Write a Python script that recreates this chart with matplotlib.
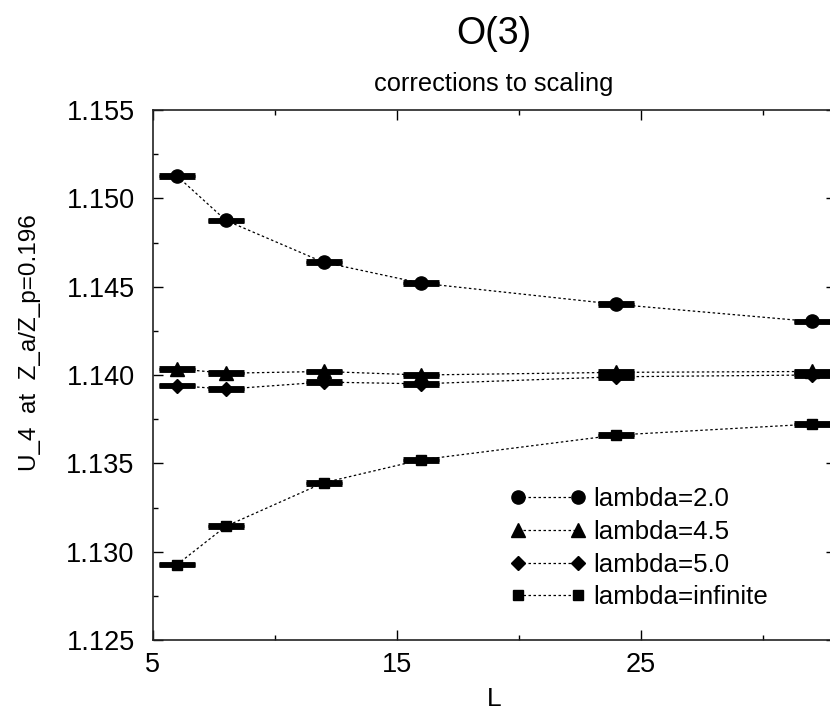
import matplotlib
matplotlib.use("Agg")
import matplotlib.pyplot as plt

plt.rcParams['font.family'] = ['Liberation Sans', 'DejaVu Sans']

L = [6, 8, 12, 16, 24, 32]
lam_2_0 = [1.15126, 1.14875, 1.14638, 1.14520, 1.14400, 1.14303]
lam_4_5 = [1.14035, 1.14010, 1.14020, 1.14000, 1.14015, 1.14020]
lam_5_0 = [1.13940, 1.13920, 1.13960, 1.13950, 1.13990, 1.14000]
lam_inf = [1.12927, 1.13144, 1.13390, 1.13520, 1.13660, 1.13722]
err_2_0 = [0.00005] * 6
err_4_5 = [0.00005] * 6
err_5_0 = [0.00005] * 6
err_inf = [0.00005] * 6
labels = ['lambda=2.0', 'lambda=4.5', 'lambda=5.0', 'lambda=infinite']
markers = ['o', '^', 'D', 's']
msizes = [9.5, 9.5, 7.5, 6.5]

W, H = 830, 710
fig = plt.figure(figsize=(W / 100, H / 100), dpi=100)
ax = fig.add_axes([152.7 / W, (H - 640) / H, (836 - 152.7) / W, 530 / H])

series = [lam_2_0, lam_4_5, lam_5_0, lam_inf]
errs = [err_2_0, err_4_5, err_5_0, err_inf]
handles = []
for y, e, m, ms, lab in zip(series, errs, markers, msizes, labels):
    ax.errorbar(L, y, yerr=e, fmt='none', ecolor='black', elinewidth=1.5,
                capsize=13, capthick=3.5, zorder=3)
    h, = ax.plot(L, y, color='black', linestyle=(0, (2, 2)), linewidth=0.9,
                 marker=m, markersize=ms, markerfacecolor='black',
                 markeredgecolor='black', label=lab, zorder=4)
    handles.append(h)

ax.set_xlim(5, 33)
ax.set_ylim(1.125, 1.155)
ax.set_xticks([5, 15, 25])
ax.set_xticks([10, 20, 30], minor=True)
ax.set_yticks([1.125, 1.130, 1.135, 1.140, 1.145, 1.150, 1.155])
ax.set_yticklabels(['1.125', '1.130', '1.135', '1.140', '1.145', '1.150', '1.155'])
ax.set_yticks([1.1275, 1.1325, 1.1375, 1.1425, 1.1475, 1.1525], minor=True)
ax.tick_params(which='both', direction='in', top=True, right=True, labelsize=19.5)
ax.tick_params(axis='y', which='major', length=7, width=1, pad=13)
ax.tick_params(axis='x', which='major', length=7, width=1, pad=9)
ax.tick_params(which='minor', length=3.5, width=1)
for s in ax.spines.values():
    s.set_linewidth(1.2)
    s.set_color('#222222')

ax.set_xlabel('L', fontsize=19, labelpad=6)
fig.text(30 / W, (H - 343) / H, 'U_4  at  Z_a/Z_p=0.196', fontsize=17.5,
         rotation=90, ha='center', va='center')

fig.text(494 / W, (H - 43.5) / H, 'O(3)', fontsize=27, ha='center', va='baseline')
fig.text(494 / W, (H - 90.7) / H, 'corrections to scaling', fontsize=18.3,
         ha='center', va='baseline')

leg = fig.legend(handles=handles, labels=labels, loc='upper left',
                 bbox_to_anchor=(510.5 / W, (H - 487) / H), frameon=False,
                 fontsize=18.6, numpoints=2, handlelength=2.9, handletextpad=0.3,
                 labelspacing=0.34, borderpad=0, borderaxespad=0)

fig.savefig('out.png', dpi=100)
